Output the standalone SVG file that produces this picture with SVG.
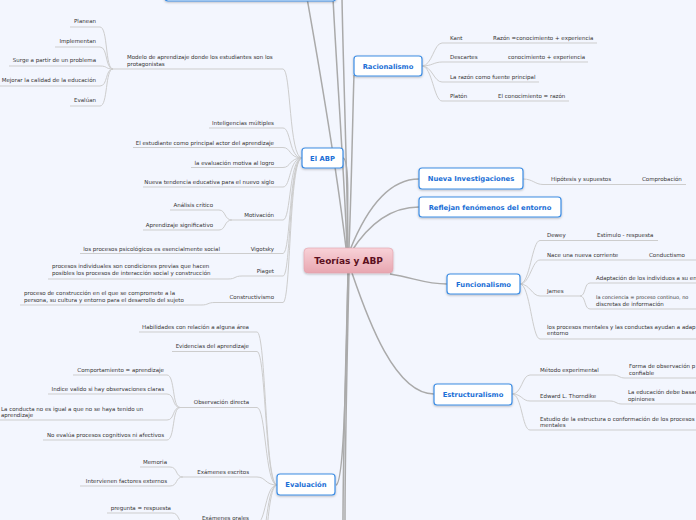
<svg xmlns="http://www.w3.org/2000/svg" width="696" height="520" viewBox="0 0 696 520">
<defs>
<linearGradient id="pink" x1="0" y1="0" x2="0" y2="1">
<stop offset="0" stop-color="#f8d2d8"/>
<stop offset="1" stop-color="#e8a6b0"/>
</linearGradient>
<filter id="sh" x="-20%" y="-30%" width="140%" height="170%">
<feDropShadow dx="0" dy="1" stdDeviation="0.8" flood-color="#000" flood-opacity="0.25"/>
</filter>
<style>
.t{font-family:"DejaVu Sans","Liberation Sans",sans-serif;font-size:5.5px;fill:#333333}
.e{text-anchor:end}
.ln{fill:none;stroke:#cdcdcd;stroke-width:1}
.mc{fill:none;stroke:#aaaaaa;stroke-width:1.5}
.nd{fill:#ffffff;stroke:#3d8de4;stroke-width:1.2;filter:url(#sh)}
.nt{font-family:"DejaVu Sans","Liberation Sans",sans-serif;font-size:6.8px;font-weight:bold;fill:#1b6fd6;text-anchor:middle}
</style>
</defs>
<rect width="696" height="520" fill="#f3f6fe"/>

<g id="connectors">
<path class="mc" d="M346,248 C338,180 318,60 307,-2"/>
<path class="mc" d="M347,248 C344,170 336,60 333,-2"/>
<path class="mc" d="M348,248 C347,170 343,60 342,-2"/>
<path class="mc" d="M349,248 C352,170 353,100 354,75"/>
<path class="mc" d="M343,158 C349,158 348,200 347,248"/>
<path class="mc" d="M350,250 C368,205 390,179 419,179"/>
<path class="mc" d="M351,252 C370,222 392,207 419,207"/>
<path class="mc" d="M390,274 C415,278 425,284 447,284"/>
<path class="mc" d="M352,273 C368,320 395,394 434,394"/>
<path class="mc" d="M348,273 C346,380 344,483 336,485"/>
<path class="mc" d="M349,273 C347,360 345,450 345,522"/>
<path class="mc" d="M348,273 C346,360 343,450 343,522"/>

<path class="ln" d="M302,158 C289,158 291,69 283,69 H113"/>
<path class="ln" d="M302,158 C289,158 291,128 283,128 H209"/>
<path class="ln" d="M302,158 C289,158 291,147.5 283,147.5 H133"/>
<path class="ln" d="M302,158 C289,158 291,167.5 283,167.5 H191"/>
<path class="ln" d="M302,158 C289,158 291,187 283,187 H143"/>
<path class="ln" d="M302,158 C289,158 291,220 283,220 H232"/>
<path class="ln" d="M302,158 C289,158 291,253.5 283,253.5 H80"/>
<path class="ln" d="M302,158 C289,158 291,276 283,276 H242"/>
<path class="ln" d="M302,158 C289,158 291,302.5 283,302.5 H215"/>
<path class="ln" d="M232,220 C224,220 226,210 219,210 H170"/>
<path class="ln" d="M232,220 C224,220 226,230 219,230 H143"/>
<path class="ln" d="M242,276 C234,276 236,279 228,279 H48"/>
<path class="ln" d="M215,302.5 C207,302.5 209,305 201,305 H20"/>
<path class="ln" d="M113,69 C105,69 108,27 100,27 H70"/>
<path class="ln" d="M113,69 C105,69 108,47 100,47 H55"/>
<path class="ln" d="M113,69 C105,69 108,66 100,66 H9"/>
<path class="ln" d="M113,69 C105,69 108,86 100,86 H-2"/>
<path class="ln" d="M113,69 C105,69 108,106 100,106 H70"/>

<path class="ln" d="M277,485 C265,485 266,332 257,332 H139"/>
<path class="ln" d="M277,485 C265,485 266,351.5 257,351.5 H172"/>
<path class="ln" d="M277,485 C265,485 266,407.5 257,407.5 H180"/>
<path class="ln" d="M277,485 C265,485 266,477 257,477 H183"/>
<path class="ln" d="M277,485 C265,485 266,523 257,523 H185"/>
<path class="ln" d="M277,485 C265,485 266,560 257,560 H185"/>
<path class="ln" d="M277,485 C265,485 266,600 257,600 H185"/>
<path class="ln" d="M180,407.5 C172,407.5 175,375 167,375 H73"/>
<path class="ln" d="M180,407.5 C172,407.5 175,394 167,394 H48"/>
<path class="ln" d="M180,407.5 C172,407.5 175,420 167,420 H-2"/>
<path class="ln" d="M180,407.5 C172,407.5 175,440 167,440 H43"/>
<path class="ln" d="M183,477 C175,477 178,467 170,467 H140"/>
<path class="ln" d="M183,477 C175,477 178,486 170,486 H80"/>
<path class="ln" d="M185,523 C177,523 180,513 172,513 H107"/>

<path class="ln" d="M422,66 C432,66 434,43 442,43 H597"/>
<path class="ln" d="M422,66 C432,66 434,62 442,62 H588"/>
<path class="ln" d="M422,66 C432,66 434,82 442,82 H539"/>
<path class="ln" d="M422,66 C432,66 434,101 442,101 H569"/>
<path class="ln" d="M523,179 C533,179 535,184.5 543,184.5 H686"/>
<path class="ln" d="M520,284 C530,284 532,240.5 540,240.5 H658"/>
<path class="ln" d="M520,284 C530,284 532,260 540,260 H700"/>
<path class="ln" d="M520,284 C530,284 532,296 540,296 H580"/>
<path class="ln" d="M520,284 C530,284 532,339 540,339 H700"/>
<path class="ln" d="M580,296 C586,296 584,283 590,283 H700"/>
<path class="ln" d="M580,296 C586,296 584,309 590,309 H700"/>
<path class="ln" d="M512,394 C522,394 522,375 530,375 H613"/>
<path class="ln" d="M512,394 C522,394 522,401 530,401 H610"/>
<path class="ln" d="M512,394 C522,394 522,430 530,430 H700"/>
<path class="ln" d="M613,375 C619,375 619,378 625,378 H700"/>
<path class="ln" d="M610,401 C616,401 616,404 622,404 H700"/>
</g>

<g id="node-top"><rect class="nd" x="165" y="-22" width="171" height="23" rx="3"/></g>

<g id="node-central">
<rect x="304" y="248" width="89" height="25" rx="4" fill="url(#pink)" stroke="#e3a1ab" stroke-width="0.6" filter="url(#sh)"/>
<text x="348.5" y="263.5" text-anchor="middle" font-family="DejaVu Sans, Liberation Sans, sans-serif" font-size="9" font-weight="bold" fill="#5c0f20">Teorías y ABP</text>
</g>

<g id="node-racionalismo"><rect class="nd" x="354" y="56" width="68" height="20" rx="3"/><text class="nt" x="388" y="68.5">Racionalismo</text></g>
<g id="node-elabp"><rect class="nd" x="302" y="148" width="41" height="20" rx="3"/><text class="nt" x="322.5" y="160.5">El ABP</text></g>
<g id="node-nueva"><rect class="nd" x="419" y="168" width="104" height="21" rx="3"/><text class="nt" x="471" y="181">Nueva Investigaciones</text></g>
<g id="node-reflejan"><rect class="nd" x="419" y="197" width="142" height="20" rx="3"/><text class="nt" x="490" y="209.5">Reflejan fenómenos del entorno</text></g>
<g id="node-funcionalismo"><rect class="nd" x="447" y="274" width="73" height="20" rx="3"/><text class="nt" x="483.5" y="286.5">Funcionalismo</text></g>
<g id="node-estructuralismo"><rect class="nd" x="434" y="384" width="78" height="21" rx="3"/><text class="nt" x="473" y="397">Estructuralismo</text></g>
<g id="node-evaluacion"><rect class="nd" x="277" y="474" width="58" height="21" rx="3"/><text class="nt" x="306" y="487">Evaluación</text></g>

<g id="abp-modelo"><text class="t" x="127" y="59">Modelo de aprendizaje donde los estudiantes son los<tspan x="127" y="65.5">protagonistas</tspan></text></g>
<g id="modelo-planean"><text class="t e" x="96" y="23">Planean</text></g>
<g id="modelo-implementan"><text class="t e" x="96" y="43">Implementan</text></g>
<g id="modelo-surge"><text class="t e" x="96" y="62">Surge a partir de un problema</text></g>
<g id="modelo-mejorar"><text class="t e" x="96" y="82">Mejorar la calidad de la educación</text></g>
<g id="modelo-evaluan"><text class="t e" x="96" y="102">Evalúan</text></g>
<g id="abp-inteligencias"><text class="t e" x="274" y="125">Inteligencias múltiples</text></g>
<g id="abp-estudiante"><text class="t e" x="274" y="144.5">El estudiante como principal actor del aprendizaje</text></g>
<g id="abp-evaluacion"><text class="t e" x="274" y="164.5">la evaluación motiva al logro</text></g>
<g id="abp-tendencia"><text class="t e" x="274" y="184">Nueva tendencia educativa para el nuevo siglo</text></g>
<g id="abp-motivacion"><text class="t e" x="274" y="217">Motivación</text></g>
<g id="motivacion-analisis"><text class="t e" x="213" y="207">Análisis crítico</text></g>
<g id="motivacion-aprendizaje"><text class="t e" x="213" y="227">Aprendizaje significativo</text></g>
<g id="abp-vigotsky"><text class="t e" x="274" y="250.5">Vigotsky</text></g>
<g id="vigotsky-social"><text class="t e" x="220" y="250.5">los procesos psicológicos es esencialmente social</text></g>
<g id="abp-piaget"><text class="t e" x="274" y="273">Piaget</text></g>
<g id="piaget-procesos"><text class="t" x="52" y="267.5">procesos individuales son condiciones previas que hacen<tspan x="52" y="275">posibles los procesos de interacción social y construcción</tspan></text></g>
<g id="abp-constructivismo"><text class="t e" x="274" y="299">Constructivismo</text></g>
<g id="constructivismo-proceso"><text class="t" x="24" y="294.5">proceso de construcción en el que se compromete a la<tspan x="24" y="302">persona, su cultura y entorno para el desarrollo del sujeto</tspan></text></g>

<g id="ev-habilidades"><text class="t e" x="249" y="328.5">Habilidades con relación a alguna área</text></g>
<g id="ev-evidencias"><text class="t e" x="249" y="348">Evidencias del aprendizaje</text></g>
<g id="ev-observacion"><text class="t e" x="249" y="404">Observación directa</text></g>
<g id="obs-comportamiento"><text class="t e" x="164" y="371.5">Comportamiento = aprendizaje</text></g>
<g id="obs-indice"><text class="t e" x="164" y="390.5">Indice valido si hay observaciones claras</text></g>
<g id="obs-conducta"><text class="t" x="1" y="410.5">La conducta no es igual a que no se haya tenido un<tspan x="1" y="417">aprendizaje</tspan></text></g>
<g id="obs-noevalua"><text class="t e" x="164" y="436.5">No evalúa procesos cognitivos ni afectivos</text></g>
<g id="ev-escritos"><text class="t e" x="249" y="473.5">Exámenes escritos</text></g>
<g id="escritos-memoria"><text class="t e" x="167" y="463.5">Memoria</text></g>
<g id="escritos-factores"><text class="t e" x="167" y="482.5">Intervienen factores externos</text></g>
<g id="ev-orales"><text class="t e" x="249" y="519.5">Exámenes orales</text></g>
<g id="orales-pregunta"><text class="t e" x="171" y="509.5">pregunta = respuesta</text></g>

<g id="rac-kant"><text class="t" x="450" y="39.5">Kant</text><text class="t" x="493" y="39.5">Razón =conocimiento + experiencia</text></g>
<g id="rac-descartes"><text class="t" x="450" y="58.5">Descartes</text><text class="t" x="508" y="58.5">conocimiento + experiencia</text></g>
<g id="rac-razon"><text class="t" x="450" y="78.5">La razón como fuente principal</text></g>
<g id="rac-platon"><text class="t" x="450" y="97.5">Platón</text><text class="t" x="498" y="97.5">El conocimiento = razón</text></g>
<g id="nueva-hipotesis"><text class="t" x="551" y="181">Hipótesis y supuestos</text><text class="t" x="642" y="181">Comprobación</text></g>
<g id="fun-dewey"><text class="t" x="547" y="237">Dewey</text><text class="t" x="597" y="237">Estímulo - respuesta</text></g>
<g id="fun-nace"><text class="t" x="547" y="256.5">Nace una nueva corriente</text><text class="t" x="649" y="256.5">Conductismo</text></g>
<g id="fun-james"><text class="t" x="547" y="292.5">James</text></g>
<g id="james-adaptacion"><text class="t" x="596" y="279.5">Adaptación de los individuos a su en</text></g>
<g id="james-conciencia"><text class="t" x="596" y="299" style="font-size:5px">la conciencia = proceso continuo, no</text><text class="t" x="596" y="305.5">discretas de información</text></g>
<g id="fun-procesos"><text class="t" x="547" y="328.5">los procesos mentales y las conductas ayudan a adap<tspan x="547" y="335">entorno</tspan></text></g>
<g id="est-metodo"><text class="t" x="540" y="371.5">Método experimental</text></g>
<g id="metodo-forma"><text class="t" x="629" y="368">Forma de observación p<tspan x="629" y="374.5">confiable</tspan></text></g>
<g id="est-thorndike"><text class="t" x="540" y="397.5">Edward L. Thorndike</text></g>
<g id="thorndike-educacion"><text class="t" x="628" y="394">La educación debe basar<tspan x="628" y="400.5">opiniones</tspan></text></g>
<g id="est-estudio"><text class="t" x="540" y="420.5">Estudio de la estructura o conformación de los procesos<tspan x="540" y="427">mentales</tspan></text></g>
</svg>
